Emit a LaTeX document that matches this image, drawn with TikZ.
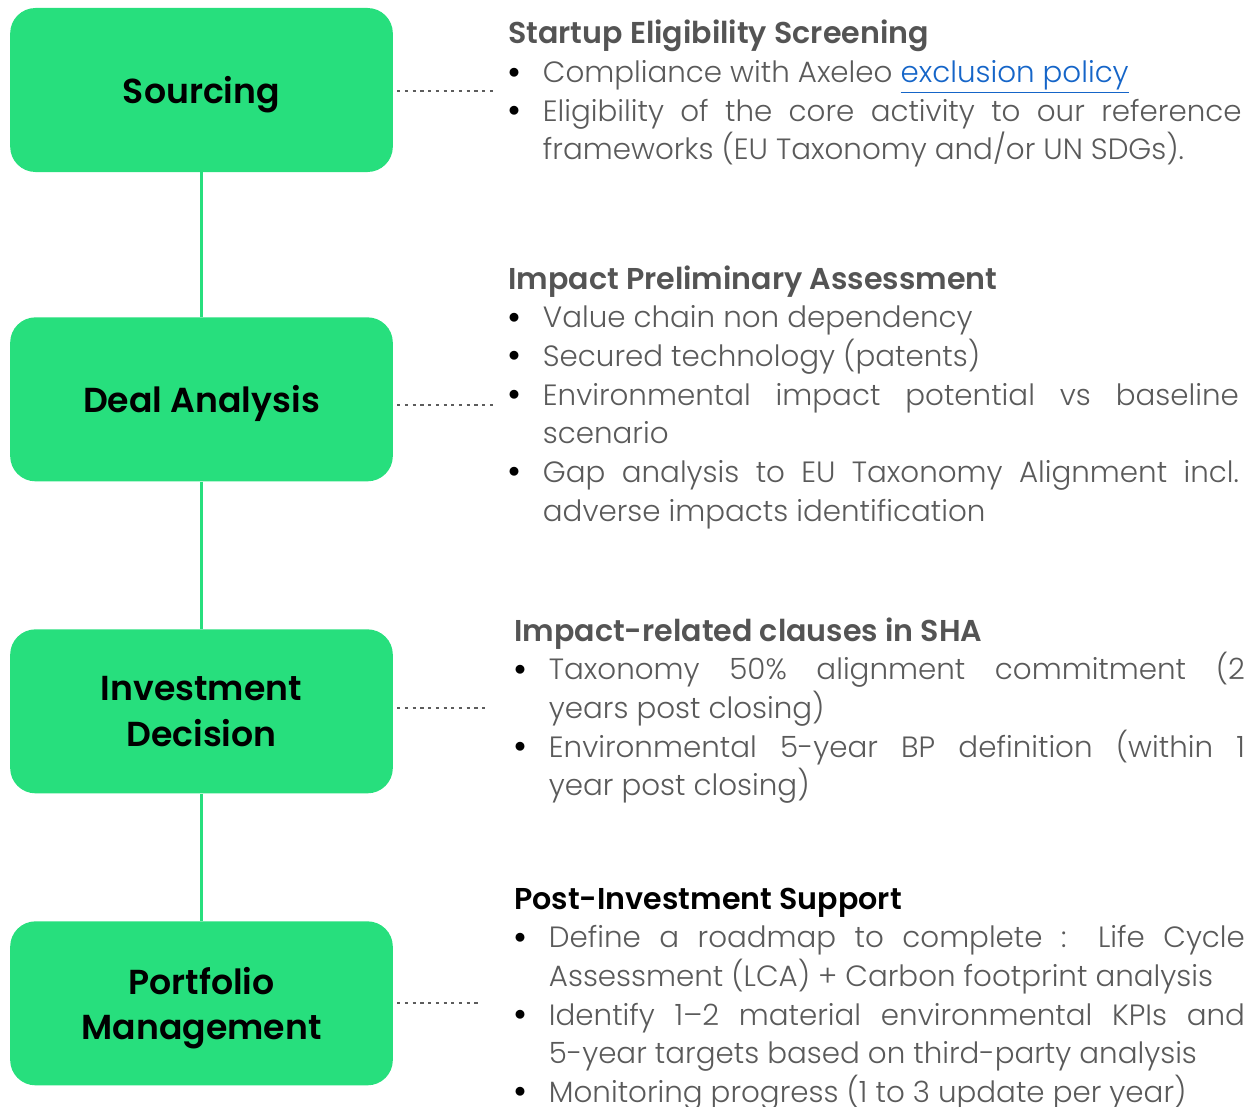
\documentclass[tikz,border=0pt]{standalone}
\usepackage{fontspec}
\setmainfont{Poppins}[UprightFont=* Light, BoldFont=* SemiBold]
\usepackage{tikz}
\usetikzlibrary{positioning}
\definecolor{stagegreen}{HTML}{27DF7D}
\definecolor{headgray}{HTML}{545454}
\definecolor{bodygray}{HTML}{5A5A5A}
\definecolor{linkblue}{HTML}{1565C8}
\definecolor{dotgray}{HTML}{5C5C5C}
\setlength{\parskip}{0pt}
\hyphenpenalty=10000
\exhyphenpenalty=10000
\tikzset{
    stagenode/.style = {rectangle, fill=stagegreen, rounded corners=19pt, minimum width=287pt,
      minimum height=123pt, inner sep=0pt, node distance=0em, align=center, text depth=0pt,
      font=\fontsize{26}{34}\selectfont\bfseries},
    textblock/.style = {rectangle, inner sep=0pt, anchor=base west, text=bodygray, align=justify,
      font=\fontsize{22}{29}\selectfont},
    dotline/.style = {dotgray, line width=2.2pt, dash pattern=on 2.4pt off 3.4pt, shorten <=3pt},
    stageline/.style = {stagegreen, line width=2.3pt}
}
\newcommand{\blt}{\par\hangindent=26pt\hangafter=1\noindent
  \makebox[26pt][l]{\raisebox{3.3pt}{\color{black}\fontsize{17}{17}\selectfont$\bullet$}}}
\newcommand{\head}[1]{\noindent{\fontsize{22.6}{29}\selectfont\bfseries\color{headgray}#1}}

\begin{document}
\begin{tikzpicture}[x=0.75pt, y=-0.75pt]
\useasboundingbox (0,0) rectangle (1259,1106);

% stages
\node [stagenode, name=Sourcing] at (201.5,90) {Sourcing};
\node [stagenode, name=Deal, below of = Sourcing, yshift=-232pt] {Deal Analysis};
\node [stagenode, name=Decision, below of = Deal, yshift=-234pt] {Investment\\Decision};
\node [stagenode, name=Portfolio, below of = Decision, yshift=-219pt] {Portfolio\\Management};
\draw [stageline] (Sourcing) -- (Deal);
\draw [stageline] (Deal) -- (Decision);
\draw [stageline] (Decision) -- (Portfolio);

% descriptions
\node [textblock, name=Screening, text width=550pt] at (508,44) {%
\head{Startup Eligibility Screening}
\blt Compliance with Axeleo {\color{linkblue}\underline{exclusion policy}}
\blt Eligibility of the core activity to our reference\linebreak frameworks (EU Taxonomy and/or UN SDGs).\par};
\node [textblock, name=Assessment, text width=548pt] at (508,289) {%
\head{Impact Preliminary Assessment}
\blt Value chain non dependency
\blt Secured technology (patents)
\blt Environmental impact potential vs baseline\linebreak scenario
\blt Gap analysis to EU Taxonomy Alignment incl.\linebreak adverse impacts identification\par};
\node [textblock, name=Clauses, text width=548pt] at (514,641) {%
\head{Impact-related clauses in SHA}
\blt Taxonomy 50\% alignment commitment (2\linebreak years post closing)
\blt Environmental 5-year BP definition (within 1\linebreak year post closing)\par};
\node [textblock, name=Support, text width=548pt] at (514,909) {%
\noindent{\fontsize{22.6}{29}\selectfont\bfseries\color{black}Post-Investment Support}
\blt Define a roadmap to complete : Life Cycle\linebreak Assessment (LCA) + Carbon footprint analysis
\blt Identify 1--2 material environmental KPIs and\linebreak 5-year targets based on third-party analysis
\blt Monitoring progress (1 to 3 update per year)\par};

% dotted links
\coordinate (SourcingEnd) at (494,91);
\coordinate (DealEnd) at (494,405);
\coordinate (DecisionEnd) at (488,708);
\coordinate (PortfolioEnd) at (481,1003);
\draw [dotline] (Sourcing.east |- SourcingEnd) -- (SourcingEnd);
\draw [dotline] (Deal.east |- DealEnd) -- (DealEnd);
\draw [dotline] (Decision.east |- DecisionEnd) -- (DecisionEnd);
\draw [dotline] (Portfolio.east |- PortfolioEnd) -- (PortfolioEnd);
\end{tikzpicture}
\end{document}
